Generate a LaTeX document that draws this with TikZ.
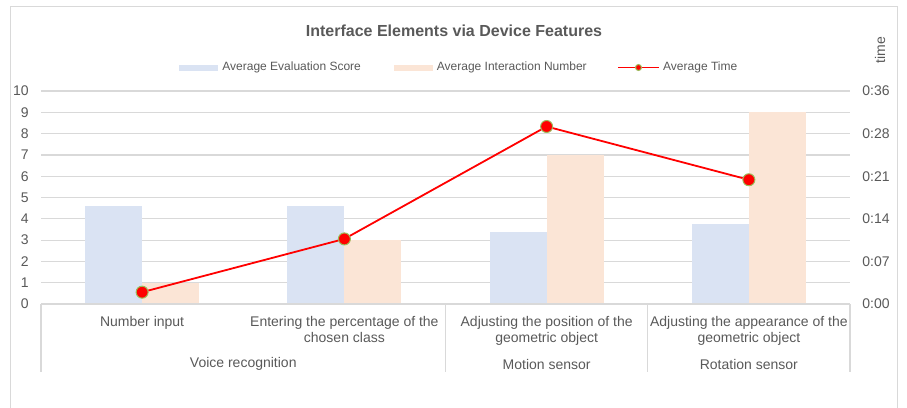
\documentclass[tikz,border=0pt]{standalone}
\usepackage{fontspec}
\setmainfont{Liberation Sans}
\usetikzlibrary{positioning}

\definecolor{gridgray}{HTML}{D9D9D9}
\definecolor{textgray}{HTML}{595959}
\definecolor{scoreblue}{HTML}{DAE3F3}
\definecolor{countorange}{HTML}{FBE5D6}
\definecolor{markgreen}{HTML}{9BBB59}

\begin{document}
\begin{tikzpicture}[
    x=1pt, y=-1pt,
    lbl/.style={font=\fontsize{14}{16}\selectfont, text=textgray, inner sep=0pt},
    legtext/.style={font=\fontsize{12}{14}\selectfont, text=textgray, inner sep=0pt},
    grid/.style={draw=gridgray, line width=1.2pt},
    swatch/.style={inner sep=0pt, minimum width=39pt, minimum height=6pt},
    marker/.style={circle, fill=red, draw=markgreen, line width=1pt, inner sep=0pt, minimum size=12pt},
    timeline/.style={red, line width=1.8pt}
]
\useasboundingbox (0,0) rectangle (907,407);
\draw[gridgray, line width=1pt] (10,410) -- (10,6) -- (897,6) -- (897,410);

% title and legend
\node[font=\fontsize{16}{18}\selectfont\bfseries, text=textgray] (title) at (454,31) {Interface Elements via Device Features};
\node[swatch, fill=scoreblue] (legscore) at (198.5,67.5) {};
\node[legtext, anchor=west, right=4pt of legscore] (legscoretext) {Average Evaluation Score};
\node[swatch, fill=countorange] (legcount) at (413,67.5) {};
\node[legtext, anchor=west, right=4pt of legcount] (legcounttext) {Average Interaction Number};
\coordinate (legtimeA) at (618,67.5);
\coordinate (legtimeB) at (659,67.5);
\draw[timeline] (legtimeA) -- (legtimeB);
\node[marker, minimum size=6pt] (legtime) at (638.5,67.5) {};
\node[legtext, anchor=west, right=4pt of legtimeB] (legtimetext) {Average Time};
\node[lbl, rotate=90] (timeaxis) at (880,50) {time};

\begin{scope}[shift={(41pt,-304pt)}, x=202.25pt, y=21.3pt]
  % gridlines and value labels
  \foreach \v in {1,...,10}
    \draw[grid] (0,\v) -- (4,\v);
  \foreach \v in {0,...,10}
    \node[lbl, anchor=east] (score\v) at (-0.06,\v) {\v};
  \foreach \v/\t in {0/0:00, 2/0:07, 4/0:14, 6/0:21, 8/0:28, 10/0:36}
    \node[lbl, anchor=west] (time\v) at (4.06,\v) {\t};

  % bars
  \foreach \c/\s/\n in {0.5/4.6/1, 1.5/4.6/3, 2.5/3.4/7, 3.5/3.75/9} {
    \fill[scoreblue] (\c-0.2818,0) rectangle (\c,\s);
    \fill[countorange] (\c,0) rectangle (\c+0.2818,\n);
  }

  % category axis
  \draw[grid] (0,0) -- (4,0);
  \foreach \x in {0,2,3,4}
    \draw[grid] (\x,0) -- (\x,-3.19);
  \node[lbl, anchor=north, align=center] (cat1) at (0.5,-0.55) {Number input};
  \node[lbl, anchor=north, align=center] (cat2) at (1.5,-0.55) {Entering the percentage of the\\chosen class};
  \node[lbl, anchor=north, align=center] (cat3) at (2.5,-0.55) {Adjusting the position of the\\geometric object};
  \node[lbl, anchor=north, align=center] (cat4) at (3.5,-0.55) {Adjusting the appearance of the\\geometric object};
  \node[lbl] (grp1) at (1,-2.82) {Voice recognition};
  \node[lbl] (grp2) at (2.5,-2.82) {Motion sensor};
  \node[lbl] (grp3) at (3.5,-2.82) {Rotation sensor};

  % average time, 0:36 at the top line
  \node[marker] (t1) at (0.5,2/3.6) {};
  \node[marker] (t2) at (1.5,11/3.6) {};
  \node[marker] (t3) at (2.5,30/3.6) {};
  \node[marker] (t4) at (3.5,21/3.6) {};
  \draw[timeline] (t1) -- (t2) -- (t3) -- (t4);
\end{scope}
\end{tikzpicture}
\end{document}
